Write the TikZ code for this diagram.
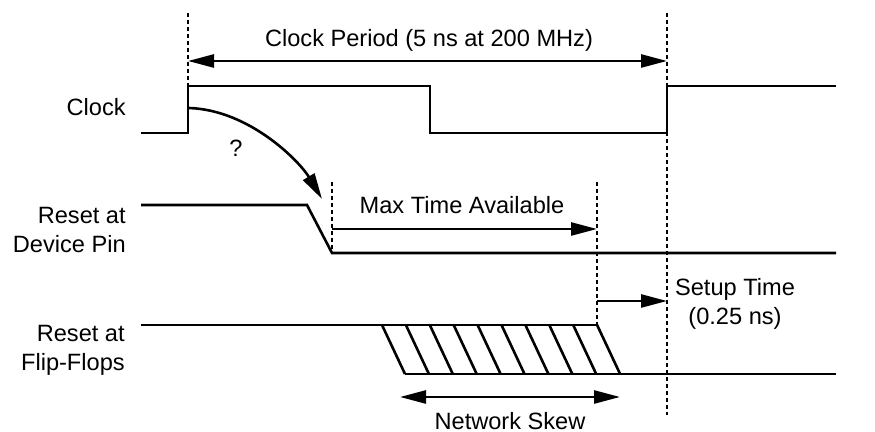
\documentclass[tikz,border=0pt]{standalone}
\usepackage{fontspec}
\setmainfont{Liberation Sans}
\usetikzlibrary{arrows.meta}
\begin{document}
\begin{tikzpicture}[x=0.5pt, y=-0.5pt, line width=1.3pt, line join=miter,
	font=\fontsize{11.8}{14.5}\selectfont, >={Triangle[length=13pt,width=6.5pt]},
	guide/.style={line width=1pt, dash pattern=on 2pt off 1.5pt},
	signame/.style={anchor=east, align=right, inner sep=0pt},
	tag/.style={align=center, inner sep=0pt}]
	\useasboundingbox (0,0) rectangle (875,432);
	% signal names
	\node[signame] (clk) at (127,107) {Clock};
	\node[signame] (pin) at (127,230) {Reset at\\Device Pin};
	\node[signame] (ff) at (126,350) {Reset at\\Flip-Flops};
	
	% waveforms
	\draw (141,133)--(188,133)--(188,86)--(430,86)--(430,133)--(667,133)--(667,86)--(836,86);
	\draw (141,205)--(307,205)--(332,253)--(836,253);
	\draw (141,325)--(597,325) (405,374)--(836,374);
	\foreach \i in {0,...,9}\draw ({382+\i*23.9},325)--({405+\i*23.9},374);
	
	% timing marks
	\coordinate (rise) at (188,61); \coordinate (next) at (667,61);
	\coordinate (pinlow) at (332,229); \coordinate (ready) at (597,229);
	\coordinate (setup) at (597,301); \coordinate (edge) at (667,301);
	\coordinate (skewa) at (400,397); \coordinate (skewb) at (620,397);
	\draw[guide] (188,13)--(188,86);
	\draw[guide] (667,13)--(667,415);
	\draw[guide] (332,182)--(332,253);
	\draw[guide] (597,182)--(597,325);
	
	\draw[<->] (rise)--(next);
	\node[tag] (per) at (429,40) {Clock Period (5 ns at 200 MHz)};
	\draw[->] (pinlow)--(ready);
	\node[tag] (avail) at (462,205) {Max Time Available};
	\draw[->] (setup)--(edge);
	\node[tag] (su) at (735,304) {Setup Time\\(0.25 ns)};
	\draw[<->] (skewa)--(skewb);
	\node[tag] (skew) at (510,421) {Network Skew};
	
	\draw[->] (189,108) .. controls (250,110) and (300,162) .. (322,199);
	\node (q) at (236,148) {?};
\end{tikzpicture}
\end{document}
